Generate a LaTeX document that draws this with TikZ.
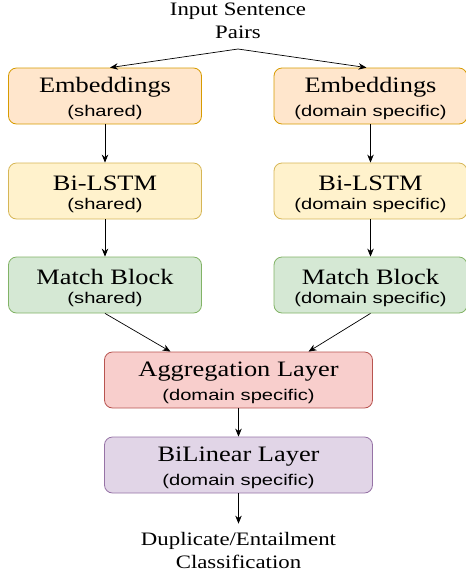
\documentclass[tikz,border=0pt]{standalone}
\usepackage{fontspec}
\usetikzlibrary{arrows.meta}
\newfontfamily\serifst[FakeStretch=1.2]{Liberation Serif}
\newfontfamily\sansst[FakeStretch=1.3]{Liberation Sans}
\newcommand\ttlf{\serifst\fontsize{22}{20}\selectfont\rule{0pt}{21pt}}
\newcommand\subf{\sansst\fontsize{15.5}{20}\selectfont}
\newcommand\plainf{\serifst\fontsize{19}{20}\selectfont}
\definecolor{orF}{HTML}{FFE6CC}\definecolor{orD}{HTML}{D79B00}
\definecolor{yeF}{HTML}{FFF2CC}\definecolor{yeD}{HTML}{D6B656}
\definecolor{grF}{HTML}{D5E8D4}\definecolor{grD}{HTML}{82B366}
\definecolor{reF}{HTML}{F8CECC}\definecolor{reD}{HTML}{B85450}
\definecolor{puF}{HTML}{E1D5E7}\definecolor{puD}{HTML}{9673A6}
\tikzset{
  box/.style={rounded corners=8pt, line width=0.8pt, minimum height=56pt, align=center, inner sep=0pt},
  sidebox/.style={box, minimum width=193pt},
  widebox/.style={box, minimum width=268pt},
  conn/.style={line width=0.7pt, -{Stealth[length=8pt,width=6.5pt]}},
  plain/.style={align=center, inner sep=0pt, font=\plainf}
}
\begin{document}
\begin{tikzpicture}[x=1pt,y=-1pt]
\useasboundingbox (0,0) rectangle (466,574);
\node[plain] (in) at (238,21) {Input Sentence\\[3pt]Pairs};
\coordinate (apex) at (238,49);
\node[sidebox, fill=orF, draw=orD] (embL) at (105,96) {\ttlf Embeddings\\[7pt]\subf (shared)};
\node[sidebox, fill=orF, draw=orD] (embR) at (370.5,96) {\ttlf Embeddings\\[7pt]\subf (domain specific)};
\node[sidebox, fill=yeF, draw=yeD] (lstmL) at (105,191) {\ttlf Bi-LSTM\\[7pt]\subf (shared)};
\node[sidebox, fill=yeF, draw=yeD] (lstmR) at (370.5,191) {\ttlf Bi-LSTM\\[7pt]\subf (domain specific)};
\node[sidebox, fill=grF, draw=grD] (matL) at (105,285) {\ttlf Match Block\\[7pt]\subf (shared)};
\node[sidebox, fill=grF, draw=grD] (matR) at (370.5,285) {\ttlf Match Block\\[7pt]\subf (domain specific)};
\node[widebox, fill=reF, draw=reD] (agg) at (238.5,380) {\ttlf Aggregation Layer\\[7pt]\subf (domain specific)};
\node[widebox, fill=puF, draw=puD] (bil) at (238.5,465) {\ttlf BiLinear Layer\\[7pt]\subf (domain specific)};
\node[plain] (out) at (238.5,550) {Duplicate/Entailment\\[3pt]Classification};
\draw[conn] (apex) -- ([xshift=5pt]embL.north);
\draw[conn] (apex) -- ([xshift=-4pt]embR.north);
\draw[conn] (embL) -- (lstmL);
\draw[conn] (embR) -- (lstmR);
\draw[conn] (lstmL) -- (matL);
\draw[conn] (lstmR) -- (matR);
\draw[conn] (matL.south) -- ([xshift=-68pt]agg.north);
\draw[conn] (matR.south) -- ([xshift=70pt]agg.north);
\draw[conn] (agg) -- (bil);
\draw[conn] (bil.south) -- ([yshift=8pt]bil.south |- out.north);
\end{tikzpicture}
\end{document}
